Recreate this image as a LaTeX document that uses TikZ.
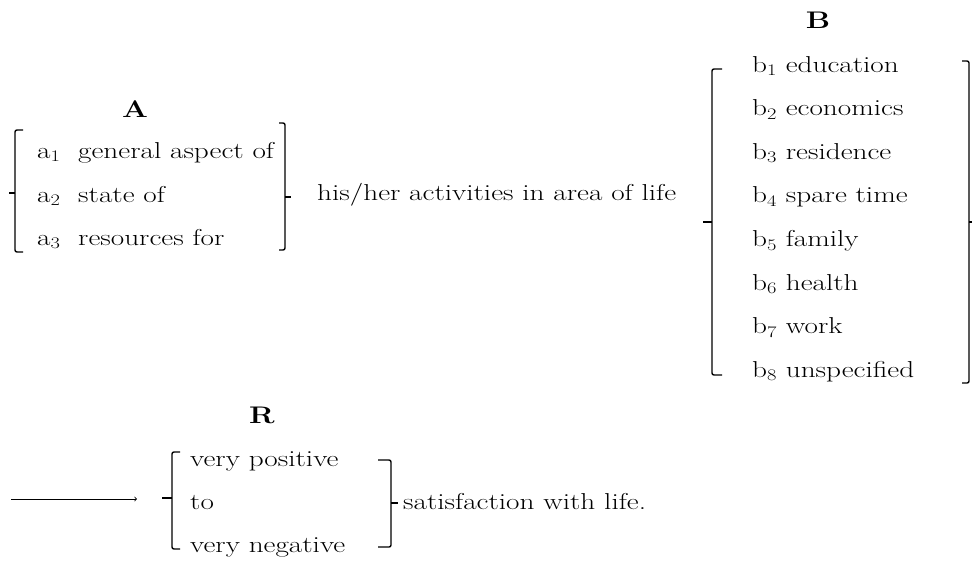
\documentclass[tikz,border=0pt]{standalone}
\usepackage{fontspec}
\setmainfont{Latin Modern Roman}[FakeStretch=1.27]
\usepackage{tikz}
\usetikzlibrary{arrows}

\tikzset{
	brk/.style={line width=1.4pt, rounded corners=2pt},
	row/.style={anchor=base west, inner sep=0pt},
	head/.style={anchor=base, inner sep=0pt, font=\fontsize{24}{28}\selectfont\bfseries},
}

\begin{document}
\begin{tikzpicture}[x=1pt,y=-1pt,font=\fontsize{23}{27}\selectfont]
	\useasboundingbox (0,0) rectangle (972,560);
	% A
	\node[head] (A) at (135,117) {A};
	\foreach \i/\y/\t in {1/158/general aspect of,2/202/state of,3/245/resources for}{
		\node[row] (a\i) at (37,\y) {a\textsubscript{\i}};
		\node[row] (at\i) at (78,\y) {\t};
	}
	\draw[brk] (23,130) -- (15,130) -- (15,252) -- (23,252);
	\draw[brk] (15,193) -- (9,193);
	\draw[brk] (279,123) -- (285,123) -- (285,250) -- (279,250);
	\draw[brk] (285,197) -- (291,197);
	\node[row] (act) at (317,200) {his/her activities in area of life};
	% B
	\node[head] (B) at (818,28) {B};
	\foreach \i/\t [count=\k from 0] in {1/education,2/economics,3/residence,4/spare time,5/family,6/health,7/work,8/unspecified}{
		\node[row] (b\i) at (752,72+43.6*\k) {b\textsubscript{\i} \t};
	}
	\draw[brk] (722,69) -- (712,69) -- (712,375) -- (722,375);
	\draw[brk] (712,222) -- (703,222);
	\draw[brk] (962,61) -- (969,61) -- (969,383) -- (962,383);
	\draw[brk] (969,222) -- (974,222);
	% R
	\node[head] (R) at (262,423) {R};
	\coordinate (arrfrom) at (11,499);
	\coordinate (arrto) at (137,499);
	\draw[->, line width=0.8pt] (arrfrom) -- (arrto);
	\node[row] (r1) at (190,466) {very positive};
	\node[row] (r2) at (190,509) {to};
	\node[row] (r3) at (190,552) {very negative};
	\draw[brk] (180,452) -- (172,452) -- (172,549) -- (180,549);
	\draw[brk] (172,498) -- (162,498);
	\draw[brk] (378,460) -- (391,460) -- (391,547) -- (378,547);
	\draw[brk] (391,503) -- (398,503);
	\node[row] (sat) at (403,509) {satisfaction with life.};
\end{tikzpicture}
\end{document}
